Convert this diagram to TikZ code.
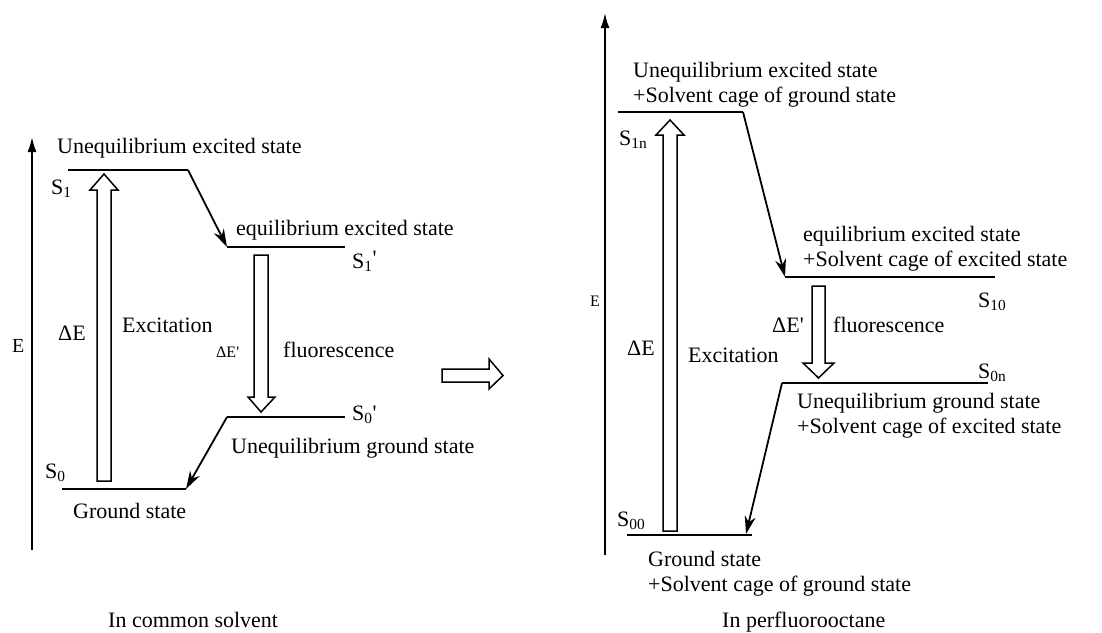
\documentclass[tikz,border=0pt]{standalone}
\usepackage{fontspec}
\setmainfont{Liberation Serif}
\usetikzlibrary{arrows.meta}
\begin{document}
\begin{tikzpicture}[x=1pt,y=-1pt,
 lbl/.style={inner sep=0pt, font=\fontsize{22}{25}\selectfont, anchor=base west},
 mlbl/.style={inner sep=0pt, font=\fontsize{22}{25}\selectfont, anchor=north west, align=left},
 level/.style={line width=2.2pt},
 axis/.style={line width=1.9pt, -{Latex[length=15pt,width=9pt]}},
 trans/.style={line width=1.8pt, -{Stealth[length=18pt,width=11pt]}},
 hollow/.style={line width=1.5pt, fill=white, line join=miter}]
\useasboundingbox (0,0) rectangle (1102,632);
% ---------- left diagram ----------
\coordinate (eB) at (32,550); \coordinate (eT) at (32,137);
\draw[axis] (eB) -- (eT);
\coordinate (s1L) at (68,170); \coordinate (s1R) at (188,170);
\coordinate (s1pL) at (227,247); \coordinate (s1pR) at (345,247);
\coordinate (s0pL) at (227,417); \coordinate (s0pR) at (345,417);
\coordinate (s0L) at (62,489); \coordinate (s0R) at (186,489);
\draw[level] (s1L) -- (s1R);
\draw[level] (s1pL) -- (s1pR);
\draw[level] (s0pL) -- (s0pR);
\draw[level] (s0L) -- (s0R);
\draw[trans] (s1R) -- (s1pL);
\draw[trans] (s0pL) -- (s0R);
\draw[hollow] (97,481) -- (97,190) -- (90,190) -- (104,174) -- (118,190) -- (111,190) -- (111,481) -- cycle;
\draw[hollow] (254,255) -- (254,397) -- (248,397) -- (261,412) -- (275,397) -- (268,397) -- (268,255) -- cycle;
\node[lbl] (t1) at (57,153) {Unequilibrium excited state};
\node[lbl] (lS1) at (51,194) {S\textsubscript{1}};
\node[lbl] (t2) at (236,235) {equilibrium excited state};
\node[lbl] (lS1p) at (352,268) {S\textsubscript{1}\raisebox{3pt}{\textquotesingle}};
\node[lbl] (dE) at (58,340) {ΔE};
\node[lbl] (exc) at (122,332) {Excitation};
\node[lbl, font=\fontsize{20}{22}\selectfont] (E1) at (12,352) {E};
\node[lbl, font=\fontsize{16}{18}\selectfont] (dEp) at (216,357) {ΔE\textquotesingle};
\node[lbl] (fl) at (283,357) {fluorescence};
\node[lbl] (lS0p) at (352,420) {S\textsubscript{0}\textquotesingle};
\node[lbl] (t3) at (231,453) {Unequilibrium ground state};
\node[lbl] (lS0) at (45,478) {S\textsubscript{0}};
\node[lbl] (t4) at (73,518) {Ground state};
\node[lbl] (cap1) at (108,627) {In common solvent};
% ---------- middle arrow ----------
\draw[hollow] (442,369) -- (489,369) -- (489,359) -- (503,375.5) -- (489,389) -- (489,382) -- (442,382) -- cycle;
% ---------- right diagram ----------
\coordinate (fB) at (605,555); \coordinate (fT) at (605,13);
\draw[axis] (fB) -- (fT);
\coordinate (s1nL) at (618,112); \coordinate (s1nR) at (743,112);
\coordinate (s10L) at (785,277); \coordinate (s10R) at (995,277);
\coordinate (s0nL) at (782,383); \coordinate (s0nR) at (988,383);
\coordinate (s00L) at (627,535); \coordinate (s00R) at (752,535);
\coordinate (g2tip) at (746,534);
\draw[level] (s1nL) -- (s1nR);
\draw[level] (s10L) -- (s10R);
\draw[level] (s0nL) -- (s0nR);
\draw[level] (s00L) -- (s00R);
\draw[trans] (s1nR) -- (s10L);
\draw[trans] (s0nL) -- (g2tip);
\draw[hollow] (663,531) -- (663,135) -- (656,135) -- (670,120) -- (684,135) -- (677,135) -- (677,531) -- cycle;
\draw[hollow] (812,286) -- (812,363) -- (803,363) -- (818.5,378) -- (834,363) -- (825,363) -- (825,286) -- cycle;
\node[lbl, font=\fontsize{16}{18}\selectfont] (E2) at (590,306) {E};
\node[mlbl] (t5) at (633,62.5) {Unequilibrium excited state\\+Solvent cage of ground state};
\node[lbl] (lS1n) at (619,145) {S\textsubscript{1n}};
\node[mlbl] (t6) at (803,226.5) {equilibrium excited state\\+Solvent cage of excited state};
\node[lbl] (lS10) at (978,307) {S\textsubscript{10}};
\node[lbl] (dEp2) at (772,332) {ΔE\textquotesingle};
\node[lbl] (fl2) at (833,332) {fluorescence};
\node[lbl] (dE2) at (627,355) {ΔE};
\node[lbl] (exc2) at (688,362) {Excitation};
\node[lbl] (lS0n) at (978,378) {S\textsubscript{0n}};
\node[mlbl] (t7) at (797,393.5) {Unequilibrium ground state\\+Solvent cage of excited state};
\node[lbl] (lS00) at (617,526) {S\textsubscript{00}};
\node[mlbl] (t8) at (648,551.5) {Ground state\\+Solvent cage of ground state};
\node[lbl] (cap2) at (722,627) {In perfluorooctane};
\end{tikzpicture}
\end{document}
